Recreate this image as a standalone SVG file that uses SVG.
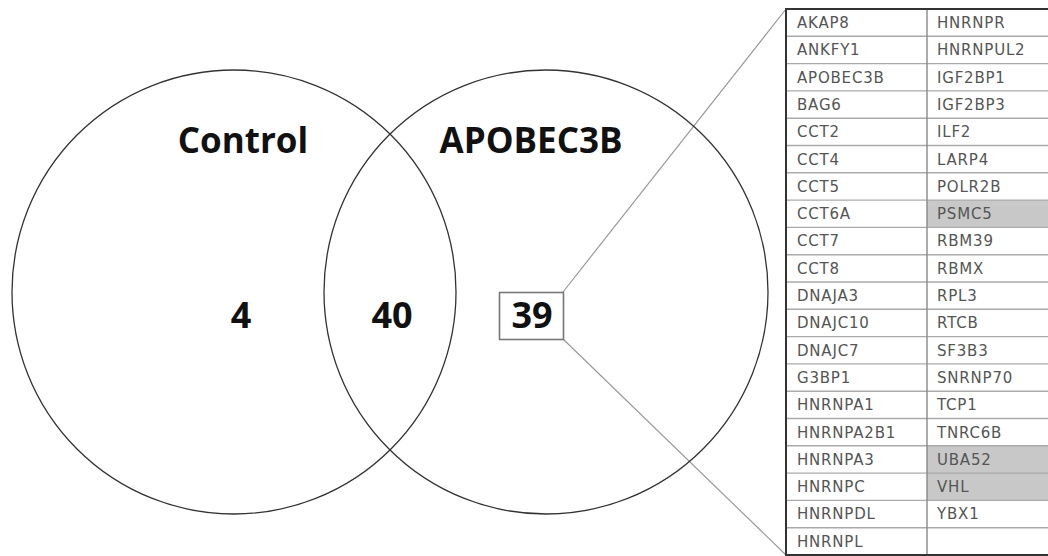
<svg xmlns="http://www.w3.org/2000/svg" width="1048" height="556" viewBox="0 0 1048 556">
<style>
.circle{fill:none;stroke:#333;stroke-width:1.3}
.big{font-family:"Open Sans","Noto Sans","DejaVu Sans",sans-serif;font-weight:700;fill:#111}
.lbl{font-size:35px}
.num{font-size:36px;text-anchor:middle}
.conn{stroke:#999;stroke-width:1.2;fill:none}
.cell{font-family:"DejaVu Sans","Noto Sans",sans-serif;font-size:15px;letter-spacing:0.8px;fill:#555}
.hl{stroke:#aaa;stroke-width:1.4}
.shade{fill:#c8c8c8}
</style>
<rect width="1048" height="556" fill="#fff"/>
<g id="connectors">
<line class="conn" x1="563" y1="292" x2="786" y2="9"/>
<line class="conn" x1="563" y1="339" x2="786" y2="555"/>
</g>
<g id="control">
<circle class="circle" cx="234" cy="292" r="222"/>
<text class="big lbl" x="243" y="153" text-anchor="middle">Control</text>
<text class="big num" x="241" y="328">4</text>
</g>
<g id="apobec3b">
<circle class="circle" cx="546" cy="292" r="222"/>
<text class="big lbl" x="531" y="153" text-anchor="middle">APOBEC3B</text>
</g>
<g id="overlap">
<text class="big num" x="392" y="328">40</text>
</g>
<g id="unique">
<rect x="499.5" y="292.5" width="64" height="47" fill="#fff" stroke="#777" stroke-width="1.6"/>
<text class="big num" x="532" y="328">39</text>
</g>
<g id="table">
<rect class="shade" x="927" y="200.1" width="122" height="27.3"/>
<rect class="shade" x="927" y="445.8" width="122" height="54.6"/>
<g class="hl">
<line x1="786" y1="36.3" x2="1048" y2="36.3"/>
<line x1="786" y1="63.6" x2="1048" y2="63.6"/>
<line x1="786" y1="90.9" x2="1048" y2="90.9"/>
<line x1="786" y1="118.2" x2="1048" y2="118.2"/>
<line x1="786" y1="145.5" x2="1048" y2="145.5"/>
<line x1="786" y1="172.8" x2="1048" y2="172.8"/>
<line x1="786" y1="200.1" x2="1048" y2="200.1"/>
<line x1="786" y1="227.4" x2="1048" y2="227.4"/>
<line x1="786" y1="254.7" x2="1048" y2="254.7"/>
<line x1="786" y1="282" x2="1048" y2="282"/>
<line x1="786" y1="309.3" x2="1048" y2="309.3"/>
<line x1="786" y1="336.6" x2="1048" y2="336.6"/>
<line x1="786" y1="363.9" x2="1048" y2="363.9"/>
<line x1="786" y1="391.2" x2="1048" y2="391.2"/>
<line x1="786" y1="418.5" x2="1048" y2="418.5"/>
<line x1="786" y1="445.8" x2="1048" y2="445.8"/>
<line x1="786" y1="473.1" x2="1048" y2="473.1"/>
<line x1="786" y1="500.4" x2="1048" y2="500.4"/>
<line x1="786" y1="527.7" x2="1048" y2="527.7"/>
</g>
<line x1="927" y1="9" x2="927" y2="555" stroke="#888" stroke-width="1.4"/>
<rect x="786" y="9" width="264" height="546" fill="none" stroke="#333" stroke-width="2"/>
<g class="cell">
<text x="797" y="28">AKAP8</text><text x="937" y="28">HNRNPR</text>
<text x="797" y="55.3">ANKFY1</text><text x="937" y="55.3">HNRNPUL2</text>
<text x="797" y="82.6">APOBEC3B</text><text x="937" y="82.6">IGF2BP1</text>
<text x="797" y="109.9">BAG6</text><text x="937" y="109.9">IGF2BP3</text>
<text x="797" y="137.2">CCT2</text><text x="937" y="137.2">ILF2</text>
<text x="797" y="164.5">CCT4</text><text x="937" y="164.5">LARP4</text>
<text x="797" y="191.8">CCT5</text><text x="937" y="191.8">POLR2B</text>
<text x="797" y="219.1">CCT6A</text><text x="937" y="219.1">PSMC5</text>
<text x="797" y="246.4">CCT7</text><text x="937" y="246.4">RBM39</text>
<text x="797" y="273.7">CCT8</text><text x="937" y="273.7">RBMX</text>
<text x="797" y="301">DNAJA3</text><text x="937" y="301">RPL3</text>
<text x="797" y="328.3">DNAJC10</text><text x="937" y="328.3">RTCB</text>
<text x="797" y="355.6">DNAJC7</text><text x="937" y="355.6">SF3B3</text>
<text x="797" y="382.9">G3BP1</text><text x="937" y="382.9">SNRNP70</text>
<text x="797" y="410.2">HNRNPA1</text><text x="937" y="410.2">TCP1</text>
<text x="797" y="437.5">HNRNPA2B1</text><text x="937" y="437.5">TNRC6B</text>
<text x="797" y="464.8">HNRNPA3</text><text x="937" y="464.8">UBA52</text>
<text x="797" y="492.1">HNRNPC</text><text x="937" y="492.1">VHL</text>
<text x="797" y="519.4">HNRNPDL</text><text x="937" y="519.4">YBX1</text>
<text x="797" y="546.7">HNRNPL</text>
</g>
</g>
</svg>
